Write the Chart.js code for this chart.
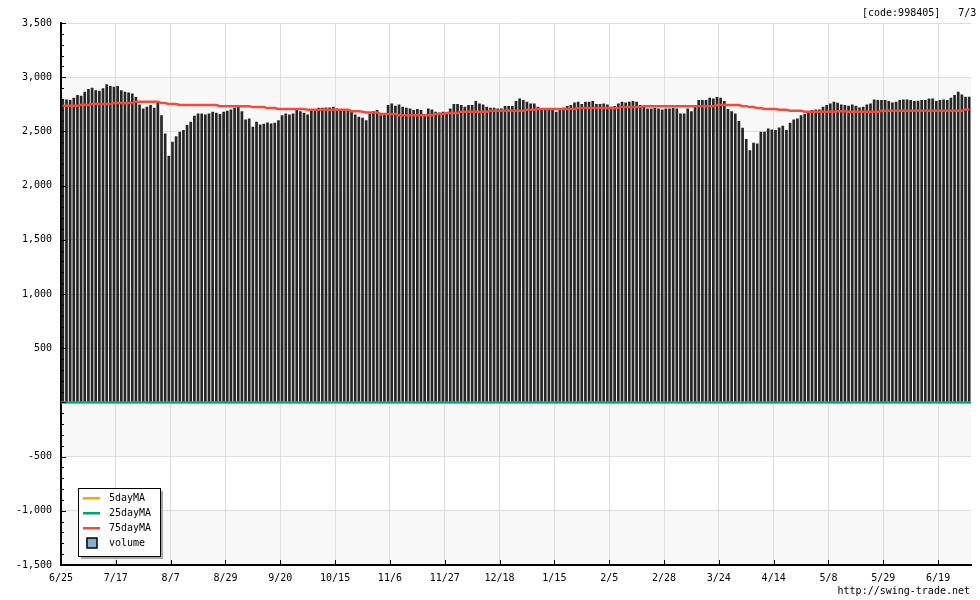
<!DOCTYPE html>
<html>
<head>
<meta charset="utf-8">
<title>998405</title>
<script src="https://cdn.jsdelivr.net/npm/chart.js@4.4.1/dist/chart.umd.min.js"></script>
<style>
  body { margin: 0; background: #fff; }
  #wrap { width: 980px; height: 600px; }
</style>
</head>
<body>
<div id="wrap"><canvas id="chart" width="980" height="600"></canvas></div>
<script>
const xTickLabels = ['6/25', '7/17', '8/7', '8/29', '9/20', '10/15', '11/6', '11/27', '12/18',
    '1/15', '2/5', '2/28', '3/24', '4/14', '5/8', '5/29', '6/19'];

// daily bar tops
const closes = [
    2795, 2795, 2790, 2810, 2835, 2830, 2866, 2890, 2903, 2880,
    2875, 2897, 2934, 2918, 2912, 2918, 2880, 2866, 2860, 2850,
    2817, 2749, 2712, 2727, 2743, 2718, 2767, 2650, 2481, 2275,
    2404, 2456, 2496, 2512, 2558, 2589, 2644, 2666, 2666, 2657,
    2666, 2681, 2672, 2660, 2681, 2690, 2703, 2718, 2727, 2687,
    2610, 2620, 2543, 2589, 2564, 2570, 2583, 2574, 2580, 2604,
    2650, 2666, 2657, 2666, 2697, 2687, 2672, 2657, 2690, 2690,
    2718, 2718, 2721, 2721, 2727, 2712, 2697, 2690, 2690, 2681,
    2657, 2635, 2626,
    2604, 2666, 2687, 2697, 2650, 2657, 2743, 2758, 2737, 2749,
    2727, 2718, 2712, 2697, 2706, 2697, 2657, 2712, 2703, 2681,
    2675, 2681, 2672, 2712, 2752, 2752, 2743, 2727, 2743, 2743,
    2780, 2758, 2749, 2727, 2718, 2718, 2712, 2712, 2734, 2734,
    2734, 2780, 2804, 2789, 2774, 2758, 2758, 2727, 2712, 2697,
    2712, 2697, 2681, 2712, 2718, 2734, 2743, 2767, 2774, 2752,
    2774, 2774, 2780, 2752, 2752, 2758, 2749, 2727, 2734, 2758,
    2774, 2767, 2774, 2780, 2774, 2743, 2727, 2712, 2712, 2718,
    2712, 2703, 2712,
    2712, 2718, 2712, 2666, 2666, 2712, 2687, 2743, 2789, 2789,
    2789, 2810, 2804, 2817, 2810, 2780, 2706, 2687, 2666, 2595,
    2533, 2429, 2327, 2395, 2389, 2496, 2496, 2527, 2518, 2512,
    2536, 2552, 2512, 2580, 2610, 2620, 2650, 2660, 2672, 2697,
    2703, 2703, 2727, 2743, 2758, 2774, 2764, 2749, 2743, 2737,
    2749, 2737, 2721, 2727, 2749, 2758, 2795, 2789, 2789, 2789,
    2780, 2767, 2774, 2789, 2795, 2795, 2789, 2780, 2783, 2789,
    2789, 2804, 2804, 2780, 2789, 2795, 2789, 2810, 2835, 2866,
    2841, 2820, 2820
];

const ma75 = [
    2737, 2737, 2737, 2737, 2737, 2743, 2743, 2743, 2752, 2752,
    2752, 2752, 2752, 2752, 2761, 2761, 2761, 2761, 2761, 2761,
    2774, 2774, 2774, 2774, 2774, 2774, 2774, 2761, 2761, 2752,
    2752, 2752, 2743, 2743, 2743, 2743, 2743, 2743, 2743, 2743,
    2743, 2743, 2743, 2733, 2733, 2733, 2733, 2733, 2733, 2733,
    2733, 2733, 2724, 2724, 2724, 2724, 2715, 2715, 2715, 2706,
    2706, 2706, 2706, 2706, 2706, 2706, 2706, 2700, 2700, 2700,
    2700, 2700, 2700, 2700, 2700, 2700, 2700, 2700, 2700, 2687,
    2687, 2687, 2681,
    2675, 2675, 2675, 2675, 2660, 2660, 2660, 2660, 2660, 2650,
    2650, 2650, 2650, 2650, 2650, 2650, 2650, 2650, 2650, 2660,
    2660, 2660, 2669, 2669, 2669, 2669, 2681, 2681, 2681, 2681,
    2681, 2681, 2681, 2681, 2690, 2690, 2690, 2690, 2690, 2690,
    2690, 2690, 2690, 2690, 2700, 2700, 2700, 2706, 2706, 2706,
    2706, 2706, 2706, 2706, 2706, 2706, 2706, 2706, 2715, 2715,
    2715, 2715, 2715, 2715, 2715, 2715, 2715, 2715, 2715, 2715,
    2724, 2724, 2724, 2724, 2724, 2724, 2733, 2733, 2733, 2733,
    2733, 2733, 2733, 2733,
    2733, 2733, 2733, 2733, 2733, 2733, 2733, 2733, 2733, 2733,
    2733, 2733, 2743, 2743, 2743, 2743, 2743, 2743, 2743, 2733,
    2733, 2724, 2724, 2715, 2715, 2706, 2706, 2706, 2706, 2700,
    2700, 2700, 2690, 2690, 2690, 2690, 2681, 2681, 2681, 2681,
    2681, 2681, 2681, 2681, 2681, 2687, 2687, 2687, 2681, 2681,
    2681, 2681, 2681, 2681, 2681, 2681, 2681, 2690, 2690, 2690,
    2690, 2690, 2690, 2690, 2690, 2690, 2690, 2690, 2690, 2690,
    2690, 2690, 2690, 2690, 2690, 2690, 2690, 2690, 2690, 2690,
    2703, 2703
];

// the short averages sit flat on zero for the whole range
const ma5 = [0, 0];
const ma25 = [0, 0];

const FONT = '10px "DejaVu Sans Mono"';

document.addEventListener('DOMContentLoaded', function() {
    showChart();
});

function flatLine(values) {
    return [{ x: 0, y: values[0] }, { x: closes.length, y: values[values.length - 1] }];
}

const bandsPlugin = {
    id: 'bands',
    beforeDraw(chart) {
        const { ctx, chartArea: a, scales: { y } } = chart;
        ctx.save();
        let n = 0;
        for (let v = y.max; v > y.min; v -= 500) {
            const top = y.getPixelForValue(v);
            const bottom = y.getPixelForValue(v - 500);
            ctx.fillStyle = n % 2 ? '#f8f8f8' : '#ffffff';
            ctx.fillRect(a.left, top, a.right - a.left, bottom - top);
            n++;
        }
        ctx.restore();
    }
};

const decorPlugin = {
    id: 'decor',
    afterDraw(chart) {
        const { ctx, chartArea: a, scales: { x, y } } = chart;
        ctx.save();
        // inner ticks on the y axis
        ctx.strokeStyle = '#000';
        ctx.lineWidth = 1;
        for (let v = y.min; v <= y.max; v += 100) {
            const py = Math.round(y.getPixelForValue(v)) + 0.5;
            ctx.beginPath();
            ctx.moveTo(a.left, py);
            ctx.lineTo(a.left + (v % 500 === 0 ? 5 : 3), py);
            ctx.stroke();
        }
        // inner ticks on the x axis
        for (let i = 0; i < xTickLabels.length; i++) {
            const px = Math.round(x.getPixelForValue(i * 15)) + 0.5;
            ctx.beginPath();
            ctx.moveTo(px, a.bottom);
            ctx.lineTo(px, a.bottom - 5);
            ctx.stroke();
        }

        // legend box
        const lx = 78, ly = 488, lw = 82, lh = 68;
        ctx.fillStyle = '#a8a8a8';
        ctx.fillRect(lx + 3, ly + 3, lw, lh);
        ctx.fillStyle = '#fff';
        ctx.fillRect(lx, ly, lw, lh);
        ctx.strokeStyle = '#000';
        ctx.strokeRect(lx + 0.5, ly + 0.5, lw, lh);

        const items = [
            { label: '5dayMA', color: '#f6a800' },
            { label: '25dayMA', color: '#00a276' },
            { label: '75dayMA', color: '#f34a3c' },
            { label: 'volume', color: '#82aed2', box: true }
        ];
        ctx.font = FONT;
        ctx.textBaseline = 'middle';
        items.forEach((item, k) => {
            const cy = ly + 10 + k * 15;
            if (item.box) {
                ctx.fillStyle = item.color;
                ctx.fillRect(87, cy - 5, 10, 10);
                ctx.strokeStyle = '#000';
                ctx.lineWidth = 1.5;
                ctx.strokeRect(87, cy - 5, 10, 10);
            } else {
                ctx.fillStyle = item.color;
                ctx.fillRect(83, cy - 1, 17, 2.5);
            }
            ctx.fillStyle = '#000';
            ctx.fillText(item.label, 109, cy);
        });

        // header and footer text
        ctx.fillText('[code:998405]   7/3', 862, 13);
        ctx.textAlign = 'right';
        ctx.fillText('http://swing-trade.net', 970, 591);
        ctx.restore();
    }
};

function showChart() {
    const canvasChart = document.getElementById('chart')?.getContext('2d');
    if (!canvasChart) return;

    Chart.defaults.font.family = '"DejaVu Sans Mono"';
    Chart.defaults.font.size = 10;
    Chart.defaults.color = '#000';

    new Chart(canvasChart, {
        type: 'bar',
        data: {
            datasets: [
                {
                    type: 'line',
                    label: '75dayMA',
                    data: ma75.map((v, i) => ({ x: i + 0.5, y: v })),
                    borderColor: '#f34a3c',
                    borderWidth: 2.5,
                    pointRadius: 0,
                    order: 0
                },
                {
                    type: 'line',
                    label: '25dayMA',
                    data: flatLine(ma25),
                    borderColor: '#00a276',
                    borderWidth: 2,
                    pointRadius: 0,
                    order: 1
                },
                {
                    type: 'line',
                    label: '5dayMA',
                    data: flatLine(ma5),
                    borderColor: '#f6a800',
                    borderWidth: 2,
                    pointRadius: 0,
                    order: 2
                },
                {
                    type: 'bar',
                    label: 'price',
                    data: closes.map((v, i) => ({ x: i + 0.5, y: v })),
                    backgroundColor: '#262626',
                    categoryPercentage: 1,
                    barPercentage: 0.74,
                    order: 3
                }
            ]
        },
        options: {
            responsive: false,
            animation: false,
            layout: { padding: { top: 23, right: 9, left: 0, bottom: 0 } },
            plugins: {
                legend: { display: false },
                tooltip: { enabled: false }
            },
            scales: {
                x: {
                    type: 'linear',
                    min: 0,
                    max: closes.length,
                    offset: false,
                    afterFit: function(scale) { scale.height = 35; },
                    grid: { color: '#dddddd', drawTicks: false, offset: false },
                    border: { color: '#000', width: 2 },
                    ticks: {
                        stepSize: 15,
                        includeBounds: false,
                        autoSkip: false,
                        maxRotation: 0,
                        padding: 7,
                        callback: function(v) {
                            return v % 15 === 0 ? (xTickLabels[v / 15] || '') : '';
                        }
                    }
                },
                y: {
                    min: -1500,
                    max: 3500,
                    afterFit: function(scale) { scale.width = 61; },
                    grid: { color: '#dddddd', drawTicks: false },
                    border: { color: '#000', width: 2 },
                    ticks: {
                        stepSize: 500,
                        padding: 9,
                        callback: function(v) {
                            return v === 0 ? '' : v.toLocaleString('en-US');
                        }
                    }
                }
            }
        },
        plugins: [bandsPlugin, decorPlugin]
    });
}
</script>
</body>
</html>
